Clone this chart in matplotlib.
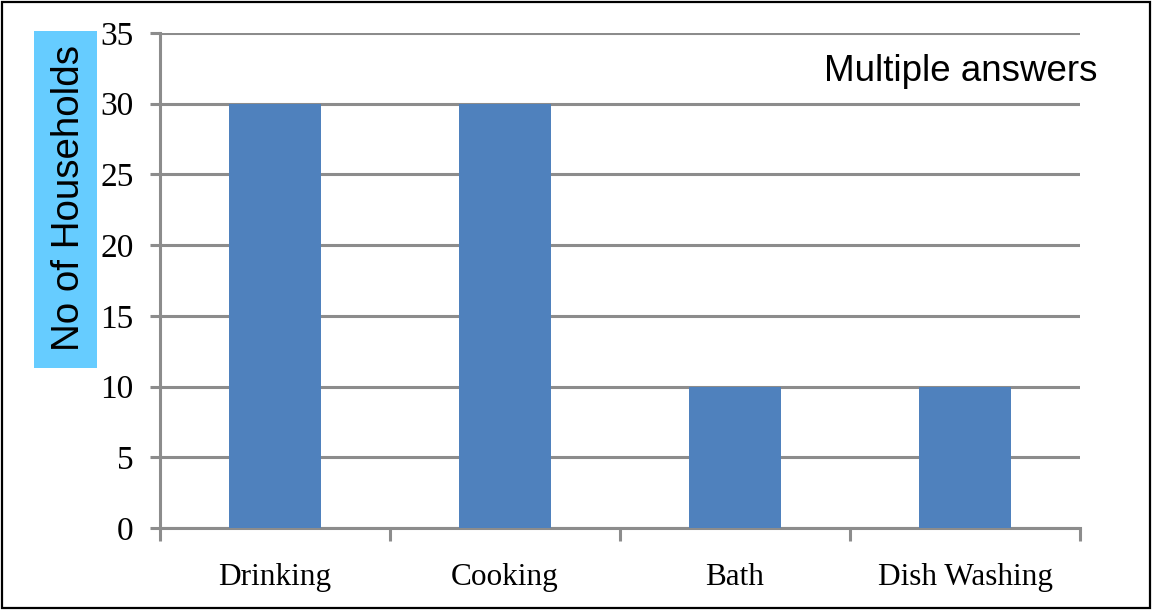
import matplotlib.pyplot as plt
import numpy as np
from matplotlib.patches import Rectangle

categories = ["Drinking", "Cooking", "Bath", "Dish Washing"]
households = [30, 30, 10, 10]
y_ticks = [0, 5, 10, 15, 20, 25, 30, 35]

bar_color = "#4F81BD"
grid_color = "#8C8C8C"

fig = plt.figure(figsize=(11.53, 6.10), dpi=100)
ax = fig.add_axes([0.1388, 0.1344, 0.7979, 0.8115])

x = np.arange(len(categories))
ax.bar(x, households, width=0.4, color=bar_color, zorder=3)

ax.set_xlim(-0.5, len(categories) - 0.5)
ax.set_ylim(0, 35)
ax.set_yticks(y_ticks)
ax.set_yticklabels([str(v) for v in y_ticks], fontfamily="Liberation Serif", fontsize=24)
ax.yaxis.grid(True, color=grid_color, linewidth=2.2, zorder=0)
ax.tick_params(axis="y", length=7, width=2.2, color=grid_color, pad=12)

# category labels centred, ticks on category boundaries
ax.set_xticks(np.arange(len(categories) + 1) - 0.5)
ax.set_xticklabels([])
ax.set_xticks(x, minor=True)
ax.set_xticklabels(categories, minor=True, fontfamily="Liberation Serif", fontsize=22.5)
ax.tick_params(axis="x", which="major", length=9, width=2.2, color=grid_color)
ax.tick_params(axis="x", which="minor", length=0, pad=25)

for side in ["top", "right"]:
    ax.spines[side].set_visible(False)
for side in ["left", "bottom"]:
    ax.spines[side].set_color(grid_color)
    ax.spines[side].set_linewidth(2.2)

# y label sits on a light blue box
fig.patches.append(Rectangle((0.0295, 0.3967), 0.0546, 0.5525, transform=fig.transFigure,
                             facecolor="#66CCFF", edgecolor="none"))
fig.text(0.0595, 0.675, "No of Households", rotation=90, ha="center", va="center",
         fontfamily="Liberation Sans", fontsize=27.7)

fig.text(0.952, 0.883, "Multiple answers", ha="right", va="center",
         fontfamily="Liberation Sans", fontsize=26.5)

fig.patches.append(Rectangle((0.002, 0.004), 0.995, 0.993, transform=fig.transFigure,
                             fill=False, edgecolor="black", linewidth=1.6))

fig.savefig("out.png", dpi=100)
